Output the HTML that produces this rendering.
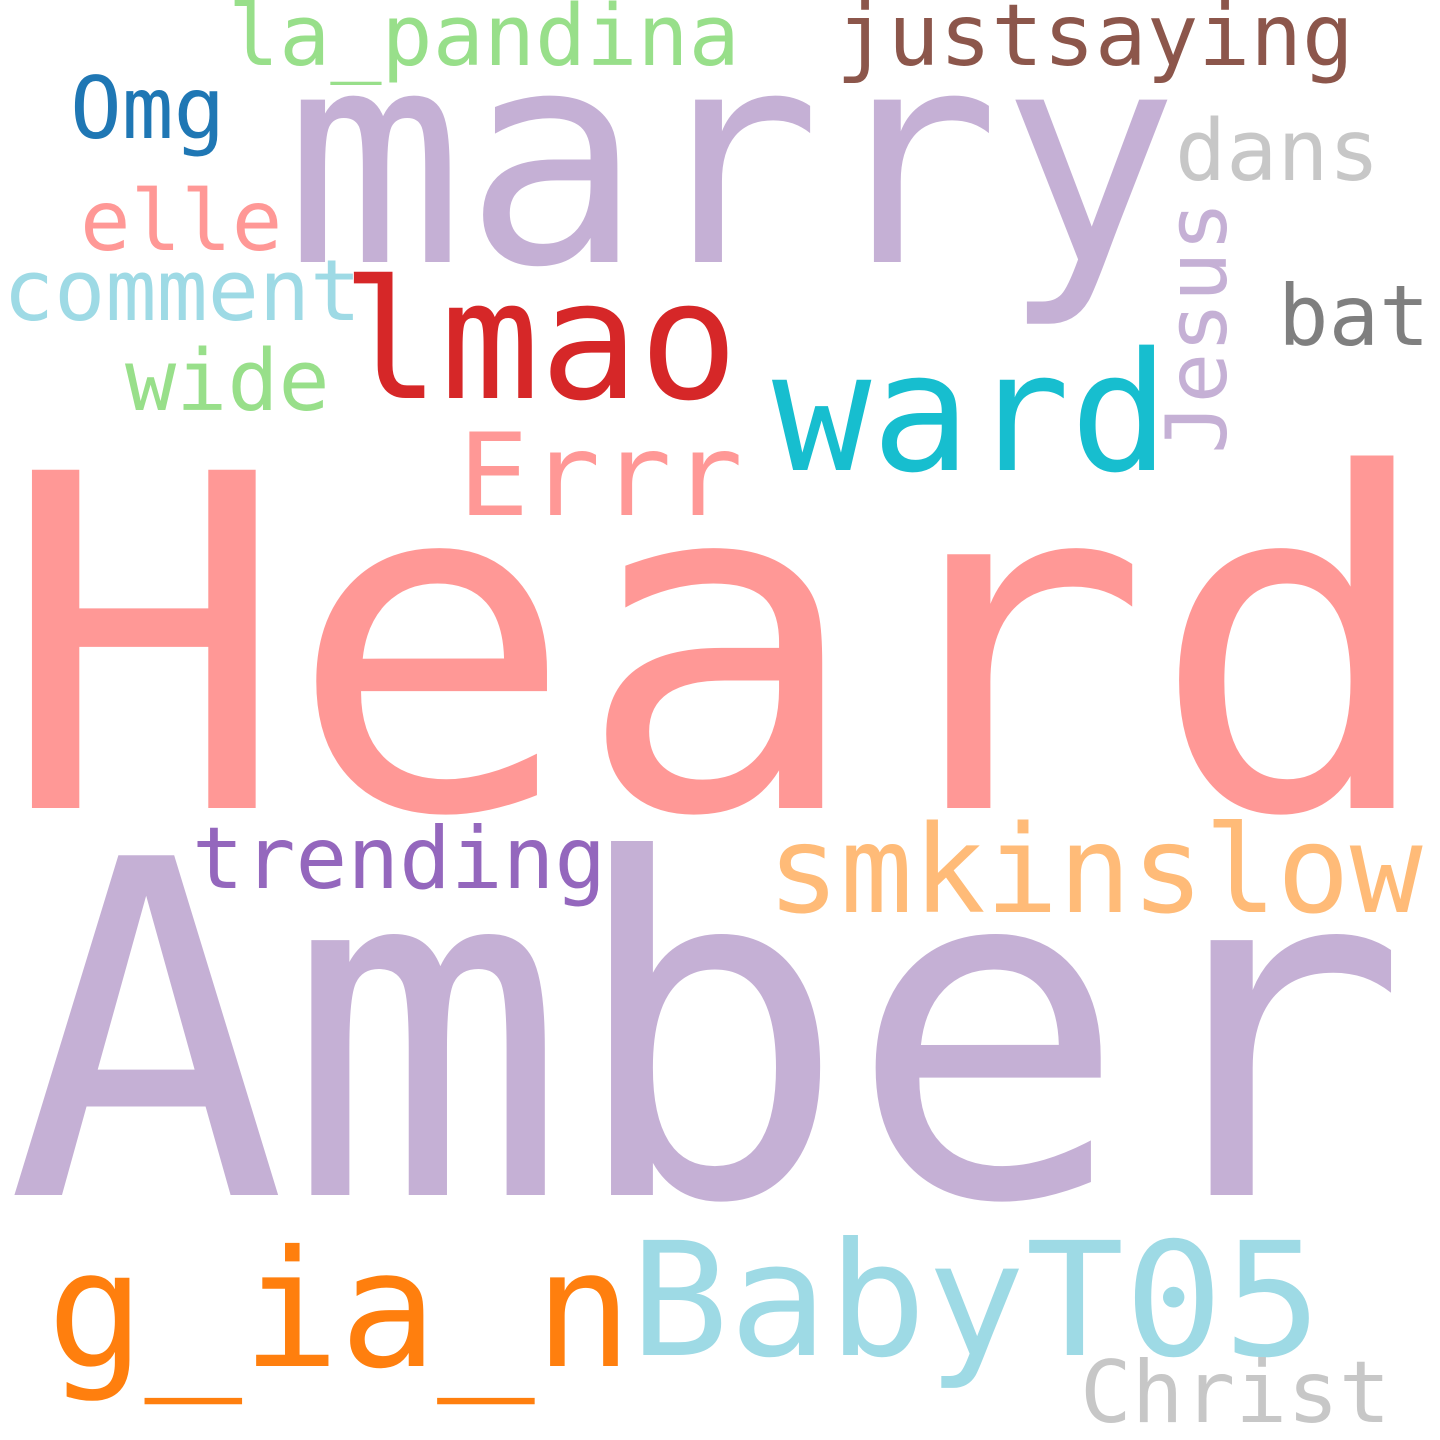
<!DOCTYPE html>
<html><head><meta charset="utf-8"><style>
html,body{margin:0;padding:0;background:#fff;width:1440px;height:1440px;overflow:hidden}
svg text{font-family:"DejaVu Sans Mono","Liberation Mono",monospace}
</style></head><body>
<svg width="1440" height="1440" viewBox="0 0 1440 1440" xmlns="http://www.w3.org/2000/svg">
<rect width="1440" height="1440" fill="#fff"/>
<text x="0" y="808" font-size="464" textLength="1438" lengthAdjust="spacingAndGlyphs" fill="#ff9896">Heard</text>
<text x="6" y="1195" font-size="466" fill="#c5b0d5">Amber</text>
<text x="285" y="262" font-size="297" fill="#c5b0d5">marry</text>
<text x="341" y="398" font-size="165" fill="#d62728">lmao</text>
<text x="772" y="470" font-size="165" fill="#17becf">ward</text>
<text x="458" y="515" font-size="114" textLength="285" lengthAdjust="spacingAndGlyphs" fill="#ff9896">Errr</text>
<text x="767" y="912" font-size="121" fill="#ffbb78">smkinslow</text>
<text x="192" y="888" font-size="86" fill="#9467bd">trending</text>
<text x="47" y="1366" font-size="162" fill="#ff7f0e">g_ia_n</text>
<text x="630" y="1355" font-size="158" textLength="692" lengthAdjust="spacingAndGlyphs" fill="#9edae5">BabyT05</text>
<text x="1080" y="1422" font-size="86" fill="#c7c7c7">Christ</text>
<text x="836" y="65" font-size="86" fill="#8c564b">justsaying</text>
<text x="228" y="65" font-size="85" fill="#98df8a">la_pandina</text>
<text x="70" y="138" font-size="86" fill="#1f77b4">Omg</text>
<text x="1175" y="180" font-size="85" fill="#c7c7c7">dans</text>
<text x="80" y="250" font-size="84" fill="#ff9896">elle</text>
<text x="3" y="320" font-size="85" fill="#9edae5">comment</text>
<text x="125" y="410" font-size="85" fill="#98df8a">wide</text>
<text x="1278" y="345" font-size="84" fill="#7f7f7f">bat</text>
<text transform="translate(1226,454) rotate(-90)" x="0" y="0" font-size="84" fill="#c5b0d5">Jesus</text>
</svg>
</body></html>
